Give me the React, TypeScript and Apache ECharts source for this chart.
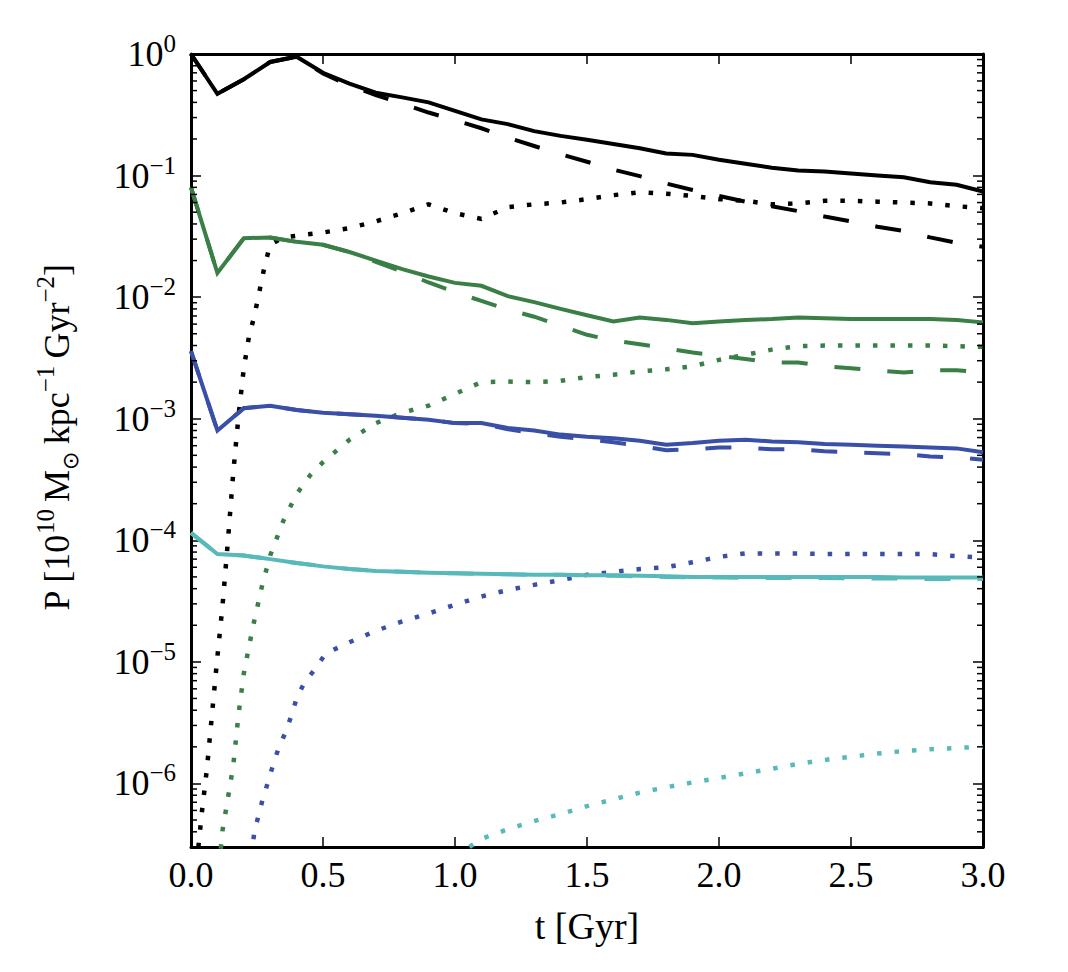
import React, { useEffect, useRef } from 'react';
import * as echarts from 'echarts';

// ---- time samples (Gyr) ----
const T_COARSE = [0, 0.1, 0.2, 0.3, 0.4, 0.5, 0.6, 0.7, 0.8, 0.9, 1.0, 1.1, 1.2, 1.3, 1.4, 1.5, 1.6, 1.7, 1.8, 1.9, 2.0, 2.1, 2.2, 2.3, 2.4, 2.5, 2.6, 2.7, 2.8, 2.9, 3.0];

// ---- black ----
const BLACK_SOLID = [1.0, 0.47, 0.62, 0.86, 0.95, 0.70, 0.57, 0.48, 0.44, 0.40, 0.34, 0.29, 0.265, 0.232, 0.212, 0.197, 0.182, 0.168, 0.152, 0.148, 0.135, 0.125, 0.116, 0.110, 0.108, 0.104, 0.100, 0.097, 0.088, 0.084, 0.074];
const BLACK_DASHED = [1.0, 0.47, 0.62, 0.86, 0.95, 0.69, 0.55, 0.46, 0.39, 0.33, 0.285, 0.245, 0.205, 0.175, 0.150, 0.130, 0.112, 0.099, 0.086, 0.076, 0.068, 0.061, 0.056, 0.051, 0.046, 0.042, 0.038, 0.035, 0.031, 0.028, 0.026];
const T_BLACK_DOT = [0, 0.02, 0.04, 0.06, 0.08, 0.10, 0.12, 0.14, 0.16, 0.18, 0.20, 0.22, 0.24, 0.26, 0.28, 0.30, 0.35, 0.4, 0.5, 0.6, 0.7, 0.8, 0.9, 1.0, 1.1, 1.2, 1.3, 1.4, 1.5, 1.6, 1.7, 1.8, 1.9, 2.0, 2.1, 2.2, 2.3, 2.4, 2.5, 2.6, 2.7, 2.8, 2.9, 3.0];
const BLACK_DOTTED = [8e-8, 2.0e-7, 5.5e-7, 1.3e-6, 3.8e-6, 1.1e-5, 3.0e-5, 1.0e-4, 3.6e-4, 1.05e-3, 2.6e-3, 4.8e-3, 7.0e-3, 1.14e-2, 1.85e-2, 2.7e-2, 3.1e-2, 3.2e-2, 3.4e-2, 3.7e-2, 4.2e-2, 4.9e-2, 5.8e-2, 4.9e-2, 4.4e-2, 5.5e-2, 5.8e-2, 6.0e-2, 6.4e-2, 6.9e-2, 7.3e-2, 7.1e-2, 6.8e-2, 6.4e-2, 6.2e-2, 5.8e-2, 5.9e-2, 6.2e-2, 6.2e-2, 6.1e-2, 6.0e-2, 5.9e-2, 5.6e-2, 5.4e-2];

// ---- green ----
const GREEN_SOLID = [0.080, 0.0158, 0.0305, 0.031, 0.0285, 0.027, 0.0235, 0.020, 0.017, 0.0148, 0.0131, 0.0124, 0.0102, 0.0091, 0.0080, 0.0071, 0.0063, 0.0068, 0.0065, 0.0061, 0.0063, 0.0065, 0.0066, 0.0068, 0.0067, 0.0066, 0.0066, 0.0066, 0.0066, 0.0065, 0.0062];
const GREEN_DASHED = [0.080, 0.0158, 0.0305, 0.031, 0.0285, 0.027, 0.0235, 0.0195, 0.0162, 0.0132, 0.0110, 0.0093, 0.0079, 0.0069, 0.0058, 0.0049, 0.0044, 0.0041, 0.0038, 0.0035, 0.0033, 0.0031, 0.0029, 0.0029, 0.0027, 0.0026, 0.0025, 0.0024, 0.0025, 0.0025, 0.0024];
const T_GREEN_DOT = [0.10, 0.12, 0.14, 0.16, 0.18, 0.20, 0.22, 0.24, 0.27, 0.30, 0.35, 0.40, 0.45, 0.50, 0.6, 0.7, 0.8, 0.9, 1.0, 1.1, 1.2, 1.3, 1.4, 1.5, 1.6, 1.7, 1.8, 1.9, 2.0, 2.1, 2.2, 2.3, 2.4, 2.5, 2.6, 2.7, 2.8, 2.9, 3.0];
const GREEN_DOTTED = [1.5e-7, 4.2e-7, 7.6e-7, 1.4e-6, 3.7e-6, 8.0e-6, 1.35e-5, 2.2e-5, 4.3e-5, 7.5e-5, 1.45e-4, 2.4e-4, 3.4e-4, 4.4e-4, 6.7e-4, 9.2e-4, 1.12e-3, 1.28e-3, 1.6e-3, 2.0e-3, 2.02e-3, 2.0e-3, 2.05e-3, 2.2e-3, 2.3e-3, 2.45e-3, 2.55e-3, 2.7e-3, 3.05e-3, 3.35e-3, 3.7e-3, 3.95e-3, 4.0e-3, 4.0e-3, 4.0e-3, 4.0e-3, 4.0e-3, 3.95e-3, 3.9e-3];

// ---- blue ----
const BLUE_SOLID = [0.0036, 8.0e-4, 1.22e-3, 1.28e-3, 1.18e-3, 1.12e-3, 1.09e-3, 1.06e-3, 1.02e-3, 9.8e-4, 9.2e-4, 9.2e-4, 8.4e-4, 8.0e-4, 7.4e-4, 7.1e-4, 6.9e-4, 6.6e-4, 6.1e-4, 6.3e-4, 6.6e-4, 6.7e-4, 6.5e-4, 6.4e-4, 6.2e-4, 6.1e-4, 6.0e-4, 5.9e-4, 5.8e-4, 5.7e-4, 5.3e-4];
const BLUE_DASHED = [0.0036, 8.0e-4, 1.22e-3, 1.28e-3, 1.18e-3, 1.12e-3, 1.09e-3, 1.06e-3, 1.02e-3, 9.8e-4, 9.2e-4, 9.1e-4, 8.2e-4, 7.6e-4, 7.1e-4, 6.8e-4, 6.4e-4, 6.0e-4, 5.5e-4, 5.6e-4, 5.8e-4, 5.8e-4, 5.6e-4, 5.6e-4, 5.4e-4, 5.3e-4, 5.2e-4, 5.1e-4, 4.9e-4, 4.8e-4, 4.6e-4];
const T_BLUE_DOT = [0.22, 0.24, 0.27, 0.29, 0.31, 0.33, 0.36, 0.38, 0.40, 0.43, 0.47, 0.51, 0.6, 0.7, 0.8, 0.9, 1.0, 1.1, 1.2, 1.3, 1.4, 1.5, 1.6, 1.7, 1.8, 1.9, 2.0, 2.1, 2.2, 2.3, 2.4, 2.5, 2.6, 2.7, 2.8, 2.9, 3.0];
const BLUE_DOTTED = [1.8e-7, 4.0e-7, 7.2e-7, 1.0e-6, 1.4e-6, 1.9e-6, 2.7e-6, 3.6e-6, 5.0e-6, 6.8e-6, 8.7e-6, 1.17e-5, 1.45e-5, 1.8e-5, 2.15e-5, 2.5e-5, 2.95e-5, 3.45e-5, 3.9e-5, 4.3e-5, 4.7e-5, 5.2e-5, 5.5e-5, 5.8e-5, 6.0e-5, 6.6e-5, 7.3e-5, 7.8e-5, 7.8e-5, 7.8e-5, 7.7e-5, 7.7e-5, 7.7e-5, 7.7e-5, 7.7e-5, 7.4e-5, 7.2e-5];

// ---- cyan ----
const CYAN_SOLID = [1.15e-4, 7.7e-5, 7.5e-5, 7.0e-5, 6.5e-5, 6.1e-5, 5.8e-5, 5.6e-5, 5.5e-5, 5.4e-5, 5.35e-5, 5.3e-5, 5.25e-5, 5.2e-5, 5.2e-5, 5.15e-5, 5.15e-5, 5.1e-5, 5.05e-5, 5.0e-5, 5.0e-5, 5.0e-5, 5.0e-5, 5.0e-5, 5.0e-5, 5.0e-5, 5.0e-5, 4.95e-5, 4.95e-5, 4.95e-5, 4.95e-5];
const CYAN_DASHED = [1.15e-4, 7.7e-5, 7.5e-5, 7.0e-5, 6.5e-5, 6.1e-5, 5.8e-5, 5.6e-5, 5.5e-5, 5.4e-5, 5.35e-5, 5.3e-5, 5.25e-5, 5.2e-5, 5.2e-5, 5.15e-5, 5.1e-5, 5.05e-5, 5.0e-5, 4.95e-5, 4.95e-5, 4.9e-5, 4.9e-5, 4.9e-5, 4.9e-5, 4.85e-5, 4.85e-5, 4.85e-5, 4.8e-5, 4.8e-5, 4.8e-5];
const T_CYAN_DOT = [1.0, 1.1, 1.2, 1.3, 1.4, 1.5, 1.6, 1.7, 1.8, 1.9, 2.0, 2.1, 2.2, 2.3, 2.4, 2.5, 2.6, 2.7, 2.8, 2.9, 3.0];
const CYAN_DOTTED = [2.5e-7, 3.5e-7, 4.2e-7, 4.9e-7, 5.6e-7, 6.5e-7, 7.4e-7, 8.4e-7, 9.3e-7, 1.02e-6, 1.11e-6, 1.21e-6, 1.32e-6, 1.45e-6, 1.56e-6, 1.66e-6, 1.76e-6, 1.85e-6, 1.91e-6, 1.96e-6, 2.0e-6];

// ---- axes ----
const X_MIN = 0;
const X_MAX = 3;
const X_INTERVAL = 0.5;
const Y_MIN = 3e-7;
const Y_MAX = 1;
const MINOR_DECADES = [-7, -6, -5, -4, -3, -2, -1];
const MINOR_MULTS = [2, 3, 4, 5, 6, 7, 8, 9];

const FONT = "'Liberation Serif', 'Times New Roman', 'DejaVu Serif', serif";
const C_BLACK = '#000000';
const C_GREEN = '#3a7f45';
const C_BLUE = '#3a4fa7';
const C_CYAN = '#57b9ba';

const DASH = [26, 27];
const DOT = [4.5, 13];

function pairs(t: number[], v: number[]) {
  return t.map((x, i) => [x, v[i]]);
}

function lineSeries(name: string, t: number[], v: number[], color: string, type: any, width: number) {
  return {
    name,
    type: 'line',
    data: pairs(t, v),
    showSymbol: false,
    symbol: 'none',
    clip: true,
    z: 3,
    lineStyle: { color, width, type, cap: 'butt', join: 'miter' },
  };
}

export default function App() {
  const ref = useRef<HTMLDivElement>(null);

  useEffect(() => {
    if (!ref.current) return;
    const chart = echarts.init(ref.current, undefined, { renderer: 'svg' });

    const minorTicks: number[][] = [];
    MINOR_DECADES.forEach((d) => {
      MINOR_MULTS.forEach((m) => {
        const v = m * Math.pow(10, d);
        if (v > Y_MIN && v < Y_MAX) minorTicks.push([0, v]);
      });
    });

    const tickStyle = { color: '#000', width: 1.5 };
    const axisLine = { show: true, onZero: false, lineStyle: { color: '#000', width: 3 } };

    const yLabelFormatter = (v: number) => {
      const lg = Math.log10(v);
      const e = Math.round(lg);
      if (Math.abs(lg - e) > 1e-6) return '';
      return e === 0 ? '{b|10}{s|0}' : `{b|10}{s|\u2212${-e}}`;
    };

    const option: any = {
      animation: false,
      backgroundColor: '#ffffff',
      grid: { left: 191, right: 85, top: 54, bottom: 125, containLabel: false },
      xAxis: [
        {
          type: 'value',
          position: 'bottom',
          min: X_MIN,
          max: X_MAX,
          interval: X_INTERVAL,
          axisLine,
          axisTick: { show: true, inside: true, length: 10, lineStyle: tickStyle },
          splitLine: { show: false },
          axisLabel: {
            formatter: (v: number) => v.toFixed(1),
            fontSize: 36,
            fontFamily: FONT,
            color: '#000',
            margin: 10,
          },
          name: 't [Gyr]',
          nameLocation: 'middle',
          nameGap: 60,
          nameTextStyle: { fontSize: 38, fontFamily: FONT, color: '#000' },
        },
        {
          type: 'value',
          position: 'top',
          min: X_MIN,
          max: X_MAX,
          interval: X_INTERVAL,
          axisLine,
          axisTick: { show: true, inside: true, length: 10, lineStyle: tickStyle },
          splitLine: { show: false },
          axisLabel: { show: false },
        },
      ],
      yAxis: [
        {
          type: 'log',
          logBase: 10,
          position: 'left',
          min: Y_MIN,
          max: Y_MAX,
          axisLine,
          axisTick: { show: true, inside: true, length: 10, lineStyle: tickStyle },
          minorTick: { show: false },
          splitLine: { show: false },
          axisLabel: {
            formatter: yLabelFormatter,
            margin: 15,
            color: '#000',
            rich: {
              b: { fontSize: 36, fontFamily: FONT, color: '#000', lineHeight: 46 },
              s: { fontSize: 25, fontFamily: FONT, color: '#000', lineHeight: 25, verticalAlign: 'top' },
            },
          },
          name: '{n|P [10}{s|10}{n|\u2009M}{u|\u2299}{n|\u2009kpc}{s|\u22121}{n|\u2009Gyr}{s|\u22122}{n|]}',
          nameLocation: 'middle',
          nameRotate: 90,
          nameGap: 110,
          nameTextStyle: {
            color: '#000',
            padding: [0, 0, 0, 26],
            rich: {
              n: { fontSize: 36, fontFamily: FONT, color: '#000', lineHeight: 48 },
              s: { fontSize: 25, fontFamily: FONT, color: '#000', lineHeight: 25, verticalAlign: 'top' },
              u: { fontSize: 22, fontFamily: "'DejaVu Sans', sans-serif", color: '#000', lineHeight: 22, verticalAlign: 'bottom' },
            },
          },
        },
        {
          type: 'log',
          logBase: 10,
          position: 'right',
          min: Y_MIN,
          max: Y_MAX,
          axisLine,
          axisTick: { show: true, inside: true, length: 10, lineStyle: tickStyle },
          minorTick: { show: false },
          splitLine: { show: false },
          axisLabel: { show: false },
        },
      ],
      series: [
        lineSeries('black solid', T_COARSE, BLACK_SOLID, C_BLACK, 'solid', 4),
        lineSeries('black dashed', T_COARSE, BLACK_DASHED, C_BLACK, DASH, 4),
        lineSeries('black dotted', T_BLACK_DOT, BLACK_DOTTED, C_BLACK, DOT, 4.5),
        lineSeries('green solid', T_COARSE, GREEN_SOLID, C_GREEN, 'solid', 4),
        lineSeries('green dashed', T_COARSE, GREEN_DASHED, C_GREEN, DASH, 4),
        lineSeries('green dotted', T_GREEN_DOT, GREEN_DOTTED, C_GREEN, DOT, 4.5),
        lineSeries('blue solid', T_COARSE, BLUE_SOLID, C_BLUE, 'solid', 4),
        lineSeries('blue dashed', T_COARSE, BLUE_DASHED, C_BLUE, DASH, 4),
        lineSeries('blue dotted', T_BLUE_DOT, BLUE_DOTTED, C_BLUE, DOT, 4.5),
        lineSeries('cyan solid', T_COARSE, CYAN_SOLID, C_CYAN, 'solid', 4),
        lineSeries('cyan dashed', T_COARSE, CYAN_DASHED, C_CYAN, DASH, 4),
        lineSeries('cyan dotted', T_CYAN_DOT, CYAN_DOTTED, C_CYAN, DOT, 4.5),
        {
          name: 'minor ticks',
          type: 'custom',
          xAxisIndex: 0,
          yAxisIndex: 0,
          data: minorTicks,
          encode: { x: 0, y: 1 },
          clip: false,
          z: 10,
          silent: true,
          renderItem: (params: any, api: any) => {
            const cs = params.coordSys;
            const y = api.coord([X_MIN, api.value(1)])[1];
            const xl = cs.x;
            const xr = cs.x + cs.width;
            return {
              type: 'group',
              children: [
                { type: 'line', shape: { x1: xl, y1: y, x2: xl + 6, y2: y }, style: { stroke: '#000', lineWidth: 1.5 } },
                { type: 'line', shape: { x1: xr - 6, y1: y, x2: xr, y2: y }, style: { stroke: '#000', lineWidth: 1.5 } },
              ],
            };
          },
        },
      ],
    };

    chart.setOption(option);
    return () => chart.dispose();
  }, []);

  return <div ref={ref} style={{ position: 'fixed', left: 0, top: 0, width: 1068, height: 972, background: '#fff' }} />;
}
